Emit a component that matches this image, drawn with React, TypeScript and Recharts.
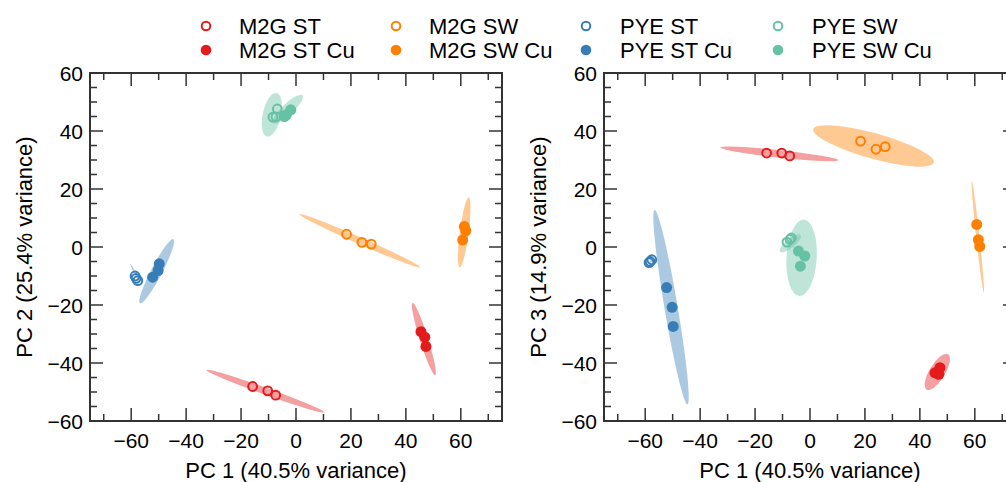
import React from "react";
import { ScatterChart, Scatter, XAxis, YAxis } from "recharts";

// groups in legend order (column by column)
const groups = ["M2G ST", "M2G ST Cu", "M2G SW", "M2G SW Cu", "PYE ST", "PYE ST Cu", "PYE SW", "PYE SW Cu"];
const groupColors = ["#e41a1c", "#e41a1c", "#ff7f00", "#ff7f00", "#377eb8", "#377eb8", "#66c2a5", "#66c2a5"];
const groupFilled = [false, true, false, true, false, true, false, true];

// principal component scores, three replicates per group
const pc1 = [
  [-15.8, -10.3, -7.4],
  [45.5, 46.9, 47.3],
  [18.4, 24.0, 27.4],
  [60.7, 61.3, 61.8],
  [-58.6, -57.6, -58.2],
  [-52.2, -50.2, -49.8],
  [-6.8, -8.4, -7.3],
  [-1.9, -3.5, -4.2],
];
const pc2 = [
  [-48.1, -49.6, -51.1],
  [-29.2, -31.1, -34.3],
  [4.4, 1.6, 1.0],
  [2.4, 7.1, 5.6],
  [-10.0, -11.6, -10.8],
  [-10.4, -8.1, -5.8],
  [47.6, 44.8, 44.9],
  [47.3, 45.6, 45.0],
];
const pc3 = [
  [32.4, 32.4, 31.4],
  [-43.4, -43.9, -41.6],
  [36.5, 33.7, 34.6],
  [7.8, 2.5, 0.2],
  [-5.4, -4.4, -5.0],
  [-14.0, -20.8, -27.4],
  [3.1, 1.7, 2.6],
  [-3.1, -6.6, -1.4],
];

// confidence ellipses: [centre x, centre y, major semi-axis dx, dy, minor semi-axis]
const ellipsesPC2 = [
  [-11.2, -49.7, 21.5, -7.3, 1.2],
  [46.55, -31.7, -4.15, 12.5, 1.5],
  [23.25, 2.15, 21.95, -9.15, 1.2],
  [61.25, 5.05, 1.65, 12.05, 1.6],
  [-58.6, -9.0, -1.8, 3.3, 0.3],
  [-50.7, -8.35, 6.1, 11.05, 2.0],
  [-8.8, 45.6, 1.8, 7.5, 3.3],
  [-3.0, 47.5, 5.4, 4.8, 2.0],
];
const ellipsesPC3 = [
  [-11.1, 32.1, 21.4, -2.2, 1.3],
  [46.35, -43.05, 3.95, 6.05, 2.8],
  [23.15, 34.85, 21.95, -5.75, 4.4],
  [61.1, 3.5, -2.2, 19.3, 0.6],
  [-58.0, -5.0, 0.8, 0.6, 0.3],
  [-50.6, -20.75, -6.0, 33.55, 2.4],
  [-7.15, 1.25, 3.75, 2.85, 1.6],
  [-3.05, -3.7, 0.85, 13.2, 5.5],
];

const xTicks = [-70, -60, -50, -40, -30, -20, -10, 0, 10, 20, 30, 40, 50, 60, 70];
const yTicks = [-60, -55, -50, -45, -40, -35, -30, -25, -20, -15, -10, -5, 0, 5, 10, 15, 20, 25, 30, 35, 40, 45, 50, 55, 60];
const xLabel = "PC 1 (40.5% variance)";

const AXIS = "#333";
const FONT = "'Liberation Sans', Arial, Helvetica, sans-serif";
const fmt = (v: number) => (v < 0 ? "\u2212" + Math.abs(v) : String(v));
const isMajor = (v: number) => v % 20 === 0;
const tickLen = (v: number) => (isMajor(v) ? 13 : 7);

const BottomTick = ({ x, y, payload }: any) => (
  <g>
    <line x1={x} x2={x} y1={y} y2={y - tickLen(payload.value)} stroke={AXIS} strokeWidth={1.5} />
    {isMajor(payload.value) && (
      <text x={x} y={y + 27} textAnchor="middle" fontSize={21} fill="#000">
        {fmt(payload.value)}
      </text>
    )}
  </g>
);

const TopTick = ({ x, y, payload }: any) => (
  <line x1={x} x2={x} y1={y} y2={y + tickLen(payload.value)} stroke={AXIS} strokeWidth={1.5} />
);

const LeftTick = ({ x, y, payload }: any) => (
  <g>
    <line x1={x} x2={x + tickLen(payload.value)} y1={y} y2={y} stroke={AXIS} strokeWidth={1.5} />
    {isMajor(payload.value) && (
      <text x={x - 7} y={y + 7.5} textAnchor="end" fontSize={21} fill="#000">
        {fmt(payload.value)}
      </text>
    )}
  </g>
);

const RightTick = ({ x, y, payload }: any) => (
  <line x1={x} x2={x - tickLen(payload.value)} y1={y} y2={y} stroke={AXIS} strokeWidth={1.5} />
);

// the scatter "line" gets the pixel positions of centre, major tip and minor tip
const ellipseLine = (color: string) => (props: any) => {
  const pts = props.points;
  if (!pts || pts.length < 3) return <g />;
  const [c, a, b] = pts;
  return (
    <ellipse
      cx={0}
      cy={0}
      rx={1}
      ry={1}
      fill={color}
      fillOpacity={0.42}
      stroke="none"
      transform={`matrix(${a.x - c.x} ${a.y - c.y} ${b.x - c.x} ${b.y - c.y} ${c.x} ${c.y})`}
    />
  );
};

const ellipsePoints = (e: number[]) => {
  const [cx, cy, vx, vy, w] = e;
  const len = Math.hypot(vx, vy);
  return [
    { x: cx, y: cy },
    { x: cx + vx, y: cy + vy },
    { x: cx - (vy / len) * w, y: cy + (vx / len) * w },
  ];
};

const pointShape = (color: string, filled: boolean) => (props: any) =>
  filled ? (
    <circle cx={props.cx} cy={props.cy} r={5.5} fill={color} stroke="none" />
  ) : (
    <circle cx={props.cx} cy={props.cy} r={4.4} fill="none" stroke={color} strokeWidth={2} />
  );

const frame = { stroke: AXIS, strokeWidth: 2, strokeLinecap: "square" as const };

function PCAPanel({ ys, ellipses, yLabel, left }: { ys: number[][]; ellipses: number[][]; yLabel: string; left: number }) {
  return (
    <div style={{ position: "absolute", left, top: 0 }}>
      <ScatterChart width={520} height={482} margin={{ top: 63, right: 8, bottom: 0, left: 0 }}>
        <XAxis
          xAxisId="b"
          type="number"
          dataKey="x"
          domain={[-75, 75]}
          allowDataOverflow
          ticks={xTicks}
          interval={0}
          tick={<BottomTick />}
          tickLine={false}
          tickSize={0}
          tickMargin={0}
          axisLine={frame}
          height={61}
          label={{ value: xLabel, position: "insideBottom", offset: 4, fontSize: 22, fill: "#000" }}
        />
        <XAxis
          xAxisId="t"
          orientation="top"
          type="number"
          dataKey="x"
          domain={[-75, 75]}
          allowDataOverflow
          ticks={xTicks}
          interval={0}
          tick={<TopTick />}
          tickLine={false}
          tickSize={0}
          tickMargin={0}
          axisLine={frame}
          height={10}
        />
        <YAxis
          yAxisId="l"
          type="number"
          dataKey="y"
          domain={[-60, 60]}
          allowDataOverflow
          ticks={yTicks}
          interval={0}
          tick={<LeftTick />}
          tickLine={false}
          tickSize={0}
          tickMargin={0}
          axisLine={frame}
          width={90}
          label={{ value: yLabel, angle: -90, position: "insideLeft", offset: 24, fontSize: 22, fill: "#000", style: { textAnchor: "middle" } }}
        />
        <YAxis
          yAxisId="r"
          orientation="right"
          type="number"
          dataKey="y"
          domain={[-60, 60]}
          allowDataOverflow
          ticks={yTicks}
          interval={0}
          tick={<RightTick />}
          tickLine={false}
          tickSize={0}
          tickMargin={0}
          axisLine={frame}
          width={10}
        />
        {ellipses.map((e, i) => (
          <Scatter
            key={"e" + i}
            xAxisId="t"
            yAxisId="r"
            data={ellipsePoints(e)}
            line={ellipseLine(groupColors[i])}
            shape={() => <g />}
            isAnimationActive={false}
          />
        ))}
        {groups.map((g, i) => (
          <Scatter
            key={g}
            name={g}
            xAxisId="b"
            yAxisId="l"
            data={pc1[i].map((x, j) => ({ x, y: ys[i][j] }))}
            shape={pointShape(groupColors[i], groupFilled[i])}
            isAnimationActive={false}
          />
        ))}
      </ScatterChart>
    </div>
  );
}

const legendMarkerX = [206, 396, 586, 778];
const legendTextX = [239, 429, 620, 812];
const legendRowY = [26, 50];

function Legend() {
  return (
    <svg width={1006} height={66} style={{ position: "absolute", left: 0, top: 0 }}>
      {groups.map((g, i) => {
        const col = Math.floor(i / 2);
        const row = i % 2;
        const cy = legendRowY[row];
        return (
          <g key={g}>
            {groupFilled[i] ? (
              <circle cx={legendMarkerX[col]} cy={cy} r={5.3} fill={groupColors[i]} />
            ) : (
              <circle cx={legendMarkerX[col]} cy={cy} r={4.3} fill="none" stroke={groupColors[i]} strokeWidth={2} />
            )}
            <text x={legendTextX[col]} y={cy + 7.5} fontSize={22} fill="#000">
              {g}
            </text>
          </g>
        );
      })}
    </svg>
  );
}

export default function App() {
  return (
    <div
      style={{
        position: "absolute",
        left: 0,
        top: 0,
        width: 1006,
        height: 482,
        overflow: "hidden",
        background: "#fff",
        fontFamily: FONT,
      }}
    >
      <PCAPanel ys={pc2} ellipses={ellipsesPC2} yLabel="PC 2 (25.4% variance)" left={0} />
      <PCAPanel ys={pc3} ellipses={ellipsesPC3} yLabel="PC 3 (14.9% variance)" left={514} />
      <Legend />
    </div>
  );
}
